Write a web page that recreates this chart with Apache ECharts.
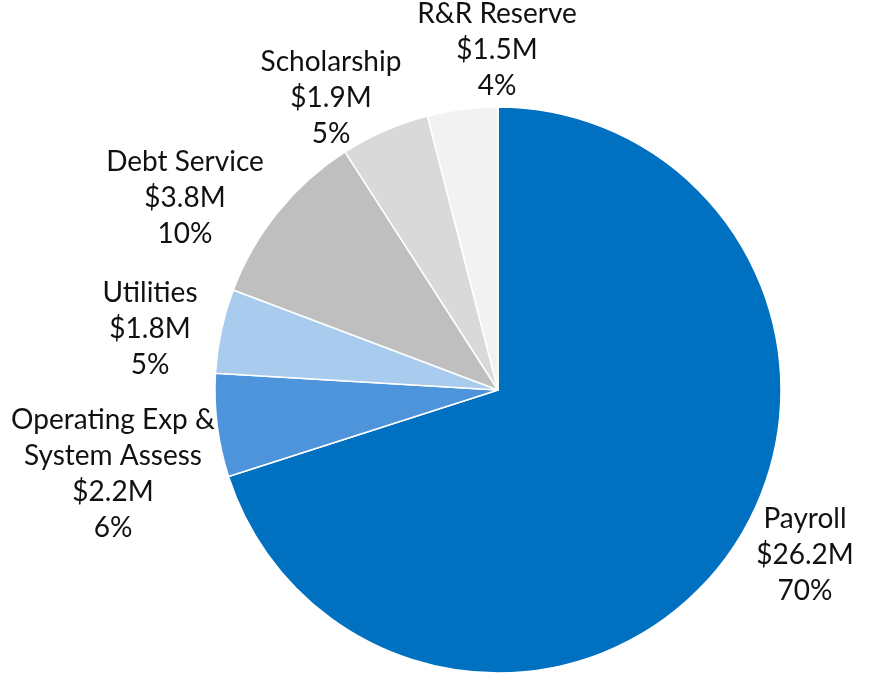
<!DOCTYPE html>
<html>
<head>
<meta charset="utf-8">
<script src="https://cdn.jsdelivr.net/npm/echarts@6/dist/echarts.min.js"></script>
<style>
  html, body { margin: 0; padding: 0; background: #fff; }
  #chart { width: 870px; height: 674px; }
</style>
</head>
<body>
<div id="chart"></div>
<script>
// budget split, $M
var names = ['Payroll', 'Operating Exp &\nSystem Assess', 'Utilities', 'Debt Service', 'Scholarship', 'R&R Reserve']
var values = [26.2, 2.2, 1.8, 3.8, 1.9, 1.5]
var colors = ['#0070C0', '#4E94DA', '#A9CBEE', '#BFBFBF', '#D9D9D9', '#F2F2F2']

// label centres, offset from pie centre (px)
var labelOffsets = [[307, 165], [-385, 84], [-348, -61], [-313, -192], [-167, -292], [-1, -340]]
var cx = 498
var cy = 390

var data = names.map(function (n, i) {
  return { name: n, value: values[i], itemStyle: { color: colors[i] } }
})

var chart = echarts.init(document.getElementById('chart'))
chart.setOption({
  backgroundColor: '#fff',
  animation: false,
  series: [
    {
      type: 'pie',
      center: [cx, cy],
      radius: 283,
      startAngle: 90,
      clockwise: true,
      data: data,
      percentPrecision: 0,
      itemStyle: {
        borderColor: '#fff',
        borderWidth: 1.5
      },
      label: {
        show: true,
        position: 'outside',
        formatter: '{b}\n${c}M\n{d}%',
        fontFamily: 'Lato',
        fontSize: 28,
        lineHeight: 36,
        color: '#111',
        align: 'center',
        overflow: 'none',
        width: 260
      },
      labelLine: { show: false },
      labelLayout: function (params) {
        var o = labelOffsets[params.dataIndex]
        return {
          x: cx + o[0],
          y: cy + o[1],
          align: 'center',
          verticalAlign: 'middle'
        }
      }
    }
  ]
})
</script>
</body>
</html>
